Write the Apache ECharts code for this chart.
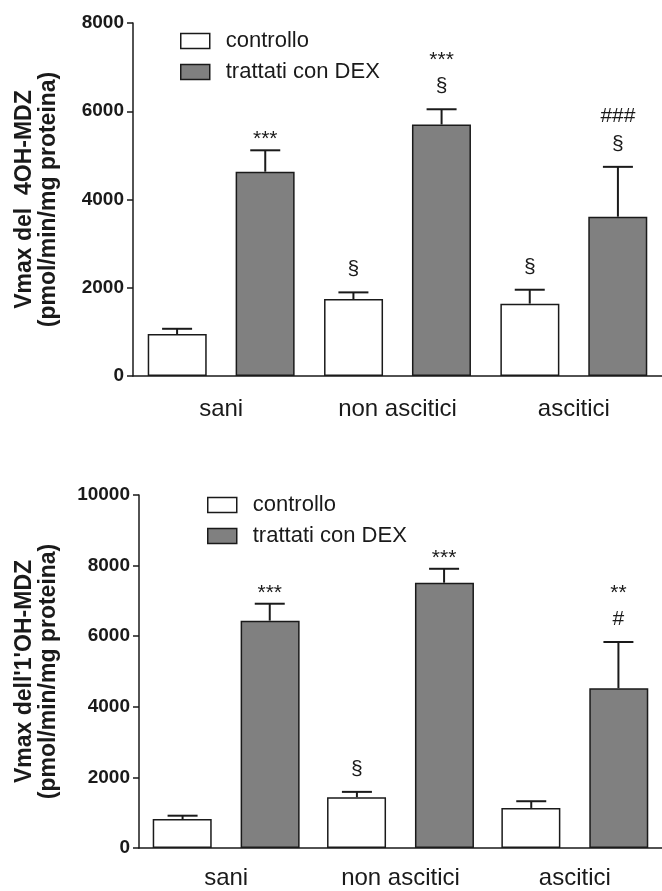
<!DOCTYPE html>
<html>
<head>
<meta charset="utf-8">
<script src="https://cdn.jsdelivr.net/npm/echarts@6/dist/echarts.min.js"></script>
<style>
  html, body { margin: 0; padding: 0; background: #fff; }
  #chart { width: 662px; height: 891px; }
</style>
</head>
<body>
<div id="chart"></div>
<script>
// Groups along the x axis
const categories = ['sani', 'non ascitici', 'ascitici'];
const seriesNames = ['controllo', 'trattati con DEX'];

// 4OH-MDZ formation (pmol/min/mg proteina): mean and SEM
const oh4Ctrl = [950, 1745, 1640];
const oh4CtrlSem = [120, 150, 315];
const oh4Dex = [4630, 5700, 3610];
const oh4DexSem = [485, 345, 1130];
const oh4CtrlMarks = [[], ['§'], ['§']];
const oh4DexMarks = [['***'], ['§', '***'], ['§', '###']];
const oh4Ticks = { min: 0, max: 8000, interval: 2000 };

// 1'OH-MDZ formation (pmol/min/mg proteina): mean and SEM
const oh1Ctrl = [820, 1440, 1135];
const oh1CtrlSem = [95, 150, 190];
const oh1Dex = [6440, 7515, 4525];
const oh1DexSem = [480, 395, 1310];
const oh1CtrlMarks = [[], ['§'], []];
const oh1DexMarks = [['***'], ['***'], ['#', '**']];
const oh1Ticks = { min: 0, max: 10000, interval: 2000 };

const FONT = "'Liberation Sans', Arial, sans-serif";
const INK = '#1a1a1a';
const GREY = '#808080';

// Error bar (upper whisker only) plus significance marks stacked above it
function errorSeries(axisIdx, means, sems, marks, side) {
  return {
    type: 'custom',
    xAxisIndex: axisIdx,
    yAxisIndex: axisIdx,
    z: 5,
    silent: true,
    data: means.map((m, i) => [i, m, sems[i]]),
    renderItem: function (params, api) {
      const idx = api.value(0);
      const mean = api.value(1);
      const sem = api.value(2);
      const band = api.size([1, 0])[0];
      const base = api.coord([idx, mean]);
      const top = api.coord([idx, mean + sem]);
      const x = base[0] + side * band * 0.25;
      const half = 15;
      const children = [
        { type: 'line', shape: { x1: x, y1: base[1], x2: x, y2: top[1] },
          style: { stroke: INK, lineWidth: 2 } },
        { type: 'line', shape: { x1: x - half, y1: top[1], x2: x + half, y2: top[1] },
          style: { stroke: INK, lineWidth: 2 } }
      ];
      const lines = marks[idx] || [];
      let y = top[1];
      lines.forEach((txt, k) => {
        const star = txt.indexOf('*') >= 0;
        if (k === 0) {
          y -= star ? 11 : 23;
        } else {
          y -= star ? 26 : 28;
        }
        children.push({
          type: 'text',
          style: {
            text: txt, x: x, y: y,
            align: 'center', verticalAlign: 'middle',
            font: '21px ' + FONT, fill: INK
          }
        });
      });
      return { type: 'group', children: children };
    }
  };
}

function barSeries(axisIdx, name, values, color) {
  return {
    type: 'bar',
    name: name,
    xAxisIndex: axisIdx,
    yAxisIndex: axisIdx,
    data: values,
    barWidth: 59,
    barGap: '49%',
    itemStyle: { color: color, borderColor: INK, borderWidth: 1.5 }
  };
}

function yAxisFor(gridIdx, ticks, title, gap) {
  return {
    type: 'value',
    gridIndex: gridIdx,
    min: ticks.min, max: ticks.max, interval: ticks.interval,
    name: title,
    nameLocation: 'middle',
    nameGap: gap,
    nameRotate: 90,
    nameTextStyle: { fontFamily: FONT, fontSize: 23, fontWeight: 'bold', color: INK, lineHeight: 24, align: 'center' },
    axisLine: { show: true, lineStyle: { color: INK, width: 1.5 } },
    axisTick: { show: true, length: 6, lineStyle: { color: INK, width: 1.5 } },
    axisLabel: {
      fontFamily: FONT, fontSize: 19, fontWeight: 'bold', color: INK, margin: 9,
      formatter: (v) => String(v)
    },
    splitLine: { show: false }
  };
}

function xAxisFor(gridIdx, margin) {
  return {
    type: 'category',
    gridIndex: gridIdx,
    data: categories,
    axisLine: { show: true, lineStyle: { color: INK, width: 1.5 } },
    axisTick: { show: false },
    axisLabel: { fontFamily: FONT, fontSize: 24, color: INK, margin: margin }
  };
}

function legendFor(left, top) {
  return {
    orient: 'vertical',
    left: left, top: top,
    padding: 0,
    itemWidth: 29, itemHeight: 15, itemGap: 9,
    icon: 'rect',
    selectedMode: false,
    textStyle: { fontFamily: FONT, fontSize: 22, color: INK, lineHeight: 22, padding: [0, 0, 0, 11] },
    data: [
      { name: seriesNames[0], itemStyle: { color: '#fff', borderColor: INK, borderWidth: 1.5 } },
      { name: seriesNames[1], itemStyle: { color: GREY, borderColor: INK, borderWidth: 1.5 } }
    ]
  };
}

const chart = echarts.init(document.getElementById('chart'), null, { renderer: 'canvas' });
chart.setOption({
  animation: false,
  backgroundColor: '#fff',
  grid: [
    { left: 133, top: 23, right: -5, bottom: 515 },
    { left: 139, top: 495, right: -11, bottom: 43 }
  ],
  legend: [legendFor(180, 30), legendFor(207, 494)],
  xAxis: [xAxisFor(0, 21), xAxisFor(1, 18)],
  yAxis: [
    yAxisFor(0, oh4Ticks, 'Vmax del  4OH-MDZ\n(pmol/min/mg proteina)', 72),
    yAxisFor(1, oh1Ticks, "Vmax dell'1'OH-MDZ\n(pmol/min/mg proteina)", 78)
  ],
  series: [
    barSeries(0, seriesNames[0], oh4Ctrl, '#fff'),
    barSeries(0, seriesNames[1], oh4Dex, GREY),
    errorSeries(0, oh4Ctrl, oh4CtrlSem, oh4CtrlMarks, -1),
    errorSeries(0, oh4Dex, oh4DexSem, oh4DexMarks, 1),
    barSeries(1, seriesNames[0], oh1Ctrl, '#fff'),
    barSeries(1, seriesNames[1], oh1Dex, GREY),
    errorSeries(1, oh1Ctrl, oh1CtrlSem, oh1CtrlMarks, -1),
    errorSeries(1, oh1Dex, oh1DexSem, oh1DexMarks, 1)
  ]
});
</script>
</body>
</html>
